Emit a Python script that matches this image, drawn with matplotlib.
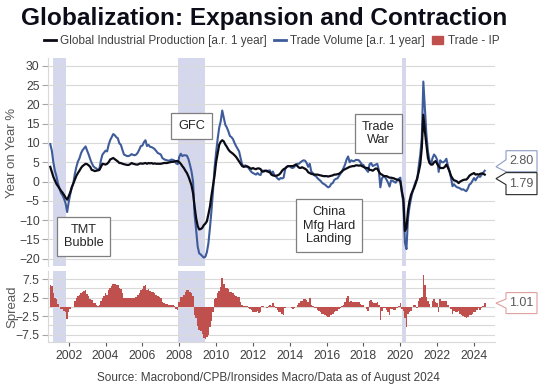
import numpy as np
import matplotlib.pyplot as plt
from matplotlib.lines import Line2D
from matplotlib.patches import Patch, Polygon

plt.rcParams['font.family'] = ['Liberation Sans', 'DejaVu Sans']

# monthly, Jan 2001 .. Aug 2024, % y/y (annualised rate over 1 year)
trade = [
    9.7, 8.0, 5.0, 2.8, 1.4, -0.5, -1.8, -3.0, -3.6, -4.5, -5.7, -7.9,
    -5.3, -3.3, -1.5, -0.5, 2.0, 3.8, 5.2, 6.0, 7.3, 8.1, 8.6, 9.1,
    8.0, 7.0, 5.8, 4.8, 4.0, 3.6, 3.4, 3.0, 3.4, 5.5, 7.0, 7.5,
    8.0, 7.8, 9.5, 10.7, 11.5, 12.3, 12.0, 11.5, 11.2, 9.9, 9.5, 8.2,
    7.0, 6.8, 6.6, 6.6, 6.8, 7.1, 6.9, 6.8, 7.0, 7.5, 8.3, 9.2,
    9.3, 10.2, 10.7, 9.2, 9.5, 9.0, 8.9, 8.7, 8.4, 7.9, 7.4, 7.2,
    7.0, 6.1, 5.8, 5.6, 5.5, 5.4, 5.5, 5.7, 5.6, 5.4, 4.7, 4.5,
    6.4, 7.2, 6.6, 6.8, 6.8, 6.7, 5.8, 4.3, 2.6, 0.0, -8.6, -12.5,
    -16.8, -18.6, -18.9, -19.3, -19.7, -19.5, -18.3, -16.0, -12.0, -7.5, -2.5, 3.5,
    7.5, 11.0, 13.9, 15.6, 18.4, 16.5, 14.7, 14.0, 13.0, 11.8, 11.5, 11.0,
    10.0, 9.2, 8.5, 7.8, 6.0, 4.4, 4.0, 4.2, 4.0, 3.6, 3.0, 2.5,
    2.2, 2.0, 1.8, 2.2, 1.8, 1.7, 2.8, 2.8, 2.8, 2.6, 2.8, 2.9,
    2.0, 2.6, 1.6, 1.3, 0.8, 0.5, 0.9, 0.8, 1.0, 3.2, 3.8, 4.0,
    4.0, 3.6, 3.5, 3.8, 4.4, 4.6, 4.6, 5.0, 5.3, 5.5, 5.4, 4.8,
    3.8, 4.6, 2.6, 2.2, 1.6, 1.4, 0.9, 0.5, 0.2, -0.3, -0.6, -0.8,
    -1.2, -1.5, -1.3, -0.6, -0.4, 0.4, 0.7, 0.8, 1.4, 2.0, 2.7, 3.5,
    4.4, 5.7, 6.5, 5.0, 5.5, 5.3, 5.3, 5.6, 5.6, 5.5, 5.0, 4.4,
    4.3, 3.5, 3.0, 2.5, 4.5, 4.8, 4.0, 4.2, 4.4, 4.6, 3.0, -1.5,
    0.8, 1.3, 1.2, 0.5, -0.3, -1.3, 0.3, 0.2, -0.1, -0.3, 0.3, 0.7,
    1.0, -3.0, -5.5, -15.8, -17.5, -9.5, -6.5, -4.4, -2.5, -1.2, 0.0, 0.5,
    4.0, 7.0, 11.3, 25.9, 19.0, 12.2, 7.8, 5.5, 4.4, 6.1, 7.0, 6.5,
    5.6, 2.5, 5.5, 5.0, 5.0, 5.3, 5.9, 4.1, 2.7, 1.0, -1.2, -0.7,
    -1.2, -1.5, -1.6, -1.8, -2.1, -2.0, -2.3, -2.5, -1.8, -0.8, -0.5, 0.2,
    0.9, 0.3, 1.0, 1.4, 1.2, 1.8, 2.3, 2.80,
]
ip = [
    3.8, 2.5, 1.2, 0.3, -0.6, -1.2, -1.8, -2.4, -2.9, -3.5, -4.2, -4.7,
    -3.8, -2.8, -1.5, -0.5, 0.5, 1.5, 2.2, 2.8, 3.5, 4.0, 4.3, 4.6,
    4.5, 4.2, 3.8, 3.0, 2.9, 2.7, 2.8, 2.9, 3.0, 3.8, 4.6, 4.5,
    4.4, 4.6, 5.0, 5.7, 5.9, 6.1, 5.8, 5.5, 5.2, 4.8, 4.8, 4.6,
    4.5, 4.4, 4.3, 4.3, 4.5, 4.8, 4.6, 4.5, 4.4, 4.4, 4.6, 4.7,
    4.6, 4.7, 4.8, 4.6, 4.8, 4.7, 4.8, 4.6, 4.7, 4.6, 4.6, 4.6,
    4.6, 4.7, 4.8, 4.8, 4.8, 4.9, 5.0, 5.1, 5.1, 5.2, 5.3, 5.3,
    5.0, 4.6, 4.0, 3.5, 2.8, 2.2, 1.3, 0.2, -1.0, -3.0, -6.5, -9.5,
    -11.5, -12.4, -12.3, -12.0, -11.3, -10.9, -10.3, -8.5, -6.5, -3.6, -1.0, 1.5,
    5.0, 7.2, 9.5, 10.3, 10.7, 10.4, 9.6, 9.0, 8.3, 7.8, 7.5, 7.2,
    6.8, 6.4, 5.8, 5.2, 4.6, 4.0, 3.8, 3.9, 3.9, 3.8, 3.5, 3.3,
    3.5, 3.3, 3.2, 3.4, 3.4, 3.2, 2.6, 2.6, 2.8, 2.8, 2.5, 2.4,
    1.8, 1.6, 1.5, 1.5, 1.6, 1.8, 2.2, 2.8, 3.2, 3.4, 3.8, 4.0,
    4.0, 4.0, 4.0, 4.2, 4.4, 4.0, 3.6, 3.5, 3.7, 3.5, 3.3, 3.0,
    2.4, 2.2, 2.0, 1.9, 1.8, 1.8, 1.8, 1.7, 1.6, 1.5, 1.4, 1.4,
    1.4, 1.3, 1.4, 1.5, 1.6, 1.8, 1.8, 1.9, 2.0, 2.3, 2.6, 3.0,
    3.2, 3.4, 3.6, 3.8, 3.9, 4.0, 4.0, 4.2, 4.2, 4.1, 4.2, 4.0,
    3.8, 3.6, 3.5, 3.5, 3.0, 3.0, 2.8, 3.1, 3.4, 3.3, 2.6, 2.0,
    1.8, 1.5, 1.4, 1.4, 1.2, 1.0, 1.0, 0.9, 0.8, 0.6, 0.5, 0.4,
    0.0, -2.5, -4.5, -12.8, -12.0, -7.5, -5.0, -3.4, -2.5, -1.6, -0.5, 0.9,
    2.5, 4.5, 8.7, 17.3, 13.0, 9.6, 6.1, 4.8, 4.4, 4.4, 5.0, 5.3,
    4.6, 4.0, 3.5, 3.5, 3.5, 3.8, 4.4, 3.6, 2.7, 1.5, 0.8, 0.3,
    0.2, 0.0, -0.4, 0.0, 0.2, 0.4, 0.5, 0.5, 0.9, 1.5, 1.8, 2.0,
    2.2, 1.8, 1.9, 1.8, 2.0, 2.1, 2.0, 1.79,
]
recessions = [(2001.17, 2001.83), (2007.92, 2009.42), (2020.10, 2020.32)]
notes = [('TMT\nBubble', 2002.8, -14.3), ('GFC', 2008.67, 14.4),
         ('China\nMfg Hard\nLanding', 2016.13, -11.4), ('Trade\nWar', 2018.82, 12.5)]
year_ticks = list(range(2002, 2025, 2))

t = 2001 + np.arange(len(trade)) / 12.0
trade = np.array(trade)
ip = np.array(ip)
spread = trade - ip

c_ip = '#0b0b16'
c_tr = '#3f5c9a'
c_sp = '#c0504d'
c_shade = '#d5d7ec'
c_grid = '#d9d9d9'
c_txt = '#404040'

W, H = 540, 385
fig = plt.figure(figsize=(5.4, 3.85), dpi=100)
ax1 = fig.add_axes([48 / W, 1 - 265.7 / H, 447 / W, 207.7 / H])
ax2 = fig.add_axes([48 / W, 1 - 341.7 / H, 447 / W, 70.7 / H])

for ax in (ax1, ax2):
    for a, b in recessions:
        ax.axvspan(a, b, color=c_shade, lw=0, zorder=0)
    ax.set_xlim(2000.876, 2025.14)
    for s in ('top', 'right', 'bottom'):
        ax.spines[s].set_visible(False)
    ax.spines['left'].set_color(c_grid)
    ax.tick_params(axis='y', length=4, width=0.8, color='#a6a6a6', labelsize=8.8, labelcolor=c_txt, pad=2)

ax1.plot(t, trade, color=c_tr, lw=1.5, zorder=3)
ax1.plot(t, ip, color=c_ip, lw=1.6, zorder=4)
ax1.set_ylim(-21.8, 32.0)
ax1.set_yticks(range(-20, 31, 5))
ax1.grid(axis='y', color=c_grid, lw=0.8, zorder=1)
ax1.set_axisbelow(True)
ax1.set_xticks([])

for txt, x, y in notes:
    ax1.text(x, y, txt, ha='center', va='center', fontsize=9.2, color='#262626', linespacing=1.15, zorder=6,
             bbox=dict(boxstyle='square,pad=0.55', fc='white', ec='#7f7f7f', lw=0.9))

ax2.bar(t, spread, width=1 / 12.0, color=c_sp, lw=0, zorder=3)
ax2.set_ylim(-9.4, 9.66)
ax2.set_yticks([-7.5, -2.5, 2.5, 7.5])
ax2.set_yticks([-5, 0, 5], minor=True)
ax2.tick_params(axis='y', which='minor', length=0)
ax2.grid(axis='y', which='both', color=c_grid, lw=0.8, zorder=1)
ax2.set_axisbelow(True)
ax2.spines['bottom'].set_visible(True)
ax2.spines['bottom'].set_color(c_grid)
ax2.set_xticks(year_ticks)
ax2.tick_params(axis='x', length=3, width=0.8, color='#595959', labelsize=8.8, labelcolor=c_txt, pad=3)

fig.text(0.49, 1 - 18 / H, 'Globalization: Expansion and Contraction', ha='center', va='center',
         fontsize=17.6, fontweight='bold', color='#0d0d1a')
handles = [Line2D([], [], color=c_ip, lw=2), Line2D([], [], color=c_tr, lw=2),
           Patch(color=c_sp)]
labels = ['Global Industrial Production [a.r. 1 year]', 'Trade Volume [a.r. 1 year]', 'Trade - IP']
leg = fig.legend(handles, labels, loc='center', bbox_to_anchor=(0.503, 1 - 41 / H), ncol=3, frameon=False,
                 fontsize=8.5, handlelength=1.0, handleheight=0.7, handletextpad=0.35, columnspacing=0.6)
for tx in leg.get_texts():
    tx.set_color(c_txt)

fig.text(12 / W, 1 - 153 / H, 'Year on Year %', rotation=90, ha='center', va='center', fontsize=9.5, color='#595959')
fig.text(12 / W, 1 - 307 / H, 'Spread', rotation=90, ha='center', va='center', fontsize=9.5, color='#595959')
fig.text(268 / W, 1 - 378 / H, 'Source: Macrobond/CPB/Ironsides Macro/Data as of August 2024',
         ha='center', va='center', fontsize=8.5, color=c_txt)


def callout(ax, value, text, edge, shift, top, bot, b0, b1):
    # tag on the right edge, pointing at the latest value
    yd = ax.transData.transform((2001, value))[1]
    tip = H - yd + shift
    x0, x1, xt = 506, 537, 496
    pts = [(x0, tip + top), (x1, tip + top), (x1, tip + bot), (x0, tip + bot),
           (x0, tip + b1), (xt, tip), (x0, tip + b0)]
    pts = [(x / W, 1 - y / H) for x, y in pts]
    fig.add_artist(Polygon(pts, closed=True, transform=fig.transFigure, fc='white', ec=edge, lw=0.8))
    fig.text((x0 + x1) / 2 / W, 1 - (tip + (top + bot) / 2) / H, text, ha='center', va='center',
             fontsize=9, color='#595959')


callout(ax1, trade[-1], '%.2f' % trade[-1], '#8c9cc4', -4, -16, 5, -7, 5)
callout(ax1, ip[-1], '%.2f' % ip[-1], '#262626', 4, -6, 16, -6, 6)
callout(ax2, spread[-1], '%.2f' % spread[-1], '#e0a09e', 0, -10.5, 10.5, -4, 5)

fig.savefig('out.png', dpi=100)
